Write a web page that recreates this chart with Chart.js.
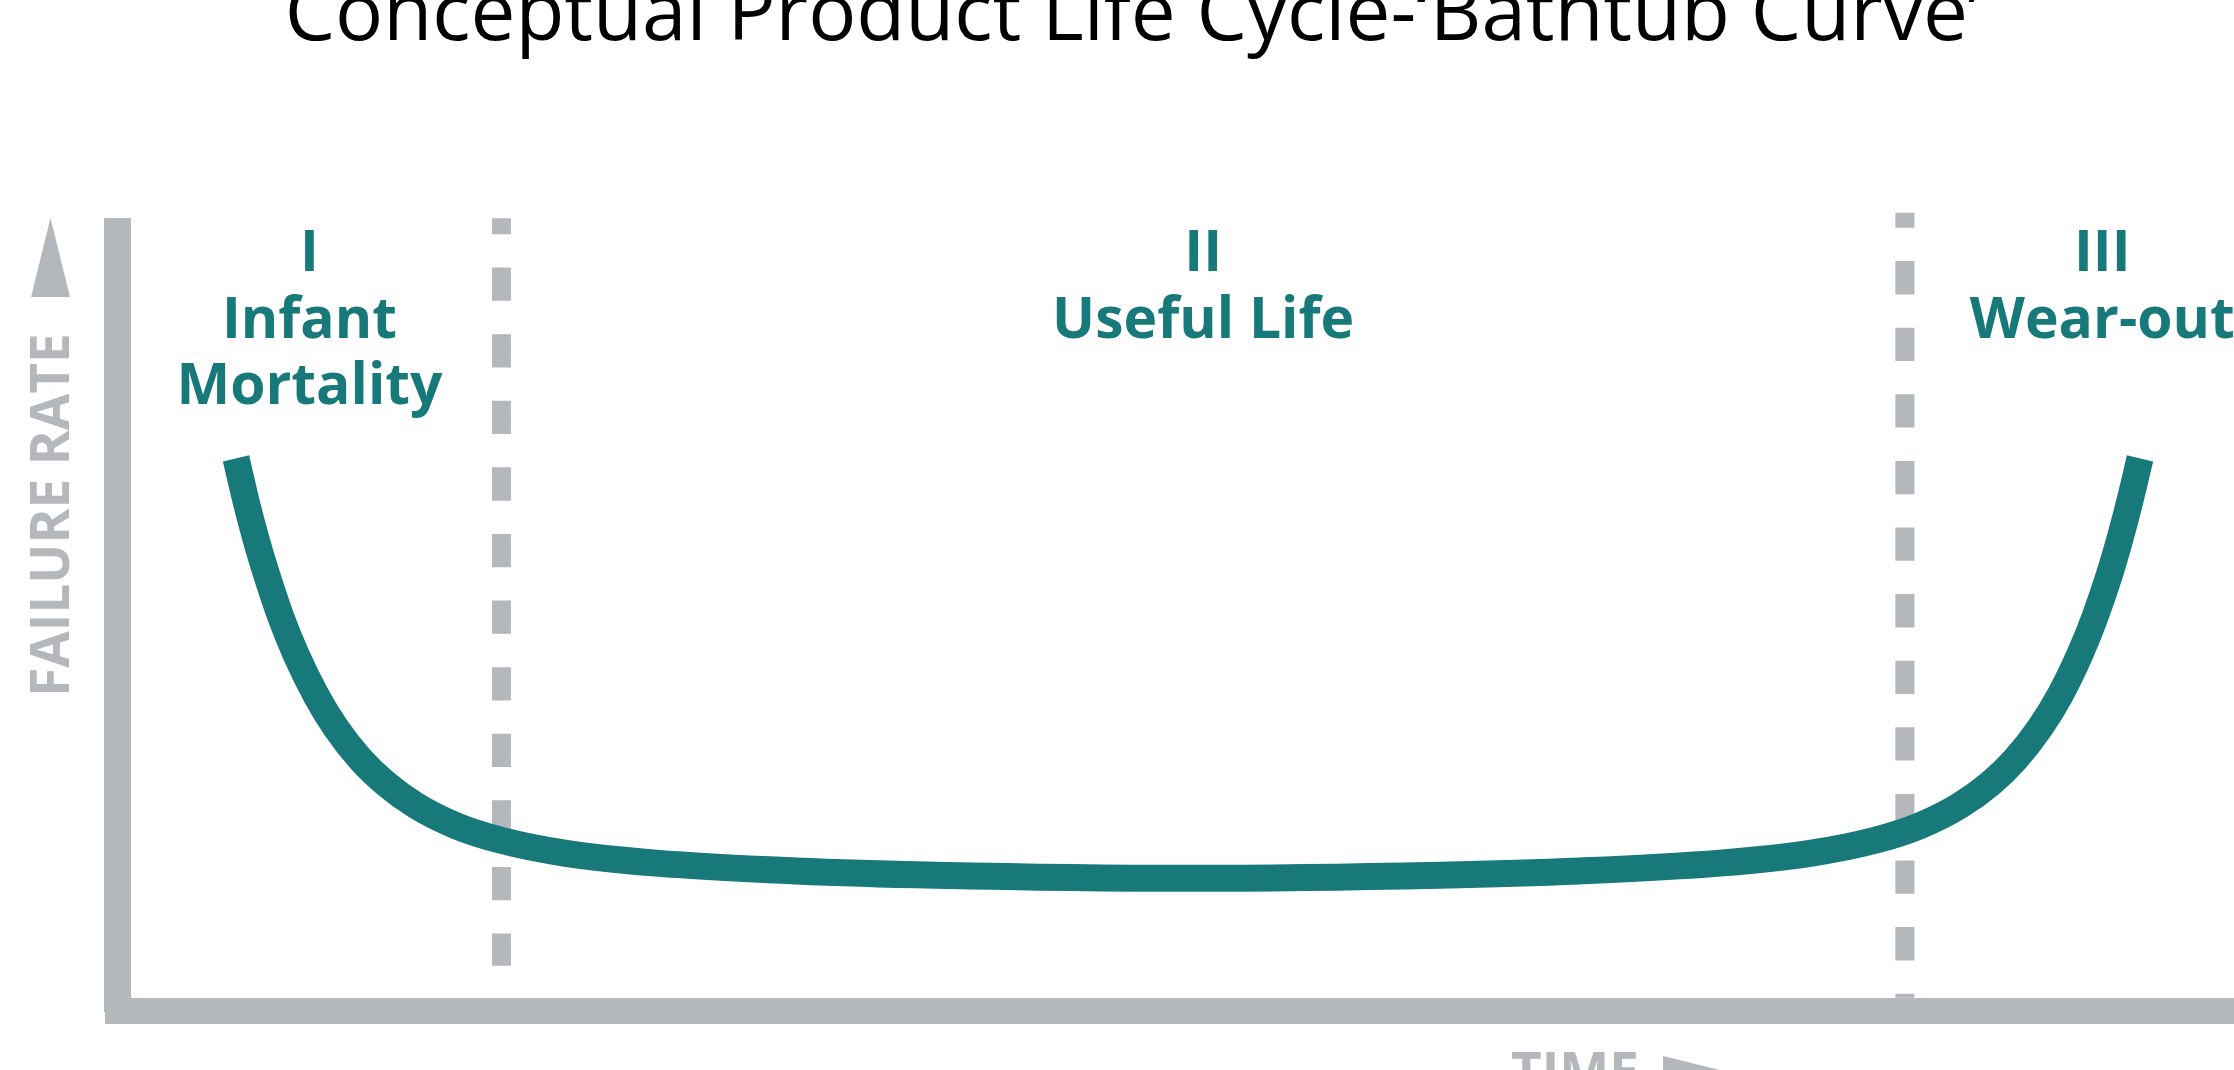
<!DOCTYPE html>
<html>
<head>
<meta charset="utf-8">
<script src="https://cdn.jsdelivr.net/npm/chart.js@4.4.1/dist/chart.umd.min.js"></script>
<style>
    html, body { margin: 0; padding: 0; background: #fff; }
    #wrap { position: relative; width: 2234px; height: 1070px; }
</style>
</head>
<body>
<div id="wrap"><canvas id="bathtub_chart"></canvas></div>
<script>
// chart data (time and failure rate both on a 0-100 conceptual scale)
const chart_title = "Conceptual Product Life Cycle-\u2018Bathtub Curve\u2019";
const y_title = "FAILURE RATE";
const x_title = "TIME";

const curve_time = [5.60, 6.07, 6.54, 7.02, 7.72, 8.43, 9.38, 10.32, 11.50, 12.69, 14.10, 15.99, 18.12,
                    21.19, 25.44, 32.06, 38.67, 50.58, 62.48, 69.10, 75.71, 79.97, 83.04, 85.16,
                    87.05, 88.47, 89.65, 90.83, 91.78, 92.72, 93.43, 94.14, 94.61, 95.08, 95.56];
const curve_rate = [70.89, 65.43, 60.56, 56.20, 50.53, 45.76, 40.51, 36.32, 32.23, 29.13, 26.36, 23.77, 21.90,
                    20.22, 18.97, 17.97, 17.42, 17.02, 17.42, 17.97, 18.97, 20.22, 21.90, 23.77,
                    26.36, 29.13, 32.23, 36.32, 40.51, 45.76, 50.53, 56.20, 60.56, 65.43, 70.89];

// phase dividers
const divider_time = [18.14, 84.45];
const divider_top = [101.7, 102.4];
const divider_bottom = [5.8, 1.7];

// phase labels
const phase_edges = [0, 18.14, 84.45, 103.1];
const phase_numerals = ["I", "II", "III"];
const phase_names = [["Infant", "Mortality"], ["Useful Life"], ["Wear-out"]];

const teal = "#17797A";
const gray = "#B4B7BB";

class BathtubChart{
    constructor(canvas_id){
        this.canvas_id = canvas_id;
    }

    build_datasets(){
        const sets = [];
        sets.push({
            label: "Failure rate",
            data: curve_time.map((t, i) => ({x: t, y: curve_rate[i]})),
            borderColor: teal,
            borderWidth: 27,
            borderCapStyle: "butt",
            borderJoinStyle: "round",
            cubicInterpolationMode: "monotone",
            pointRadius: 0,
            fill: false,
            clip: false,
            order: 0
        });
        //dashed phase dividers
        const offsets = [17.3, 18.3];
        for (let i=0; i<divider_time.length; i++){
            sets.push({
                label: "divider" + i,
                data: [{x: divider_time[i], y: divider_top[i]}, {x: divider_time[i], y: divider_bottom[i]}],
                borderColor: gray,
                borderWidth: 19,
                borderCapStyle: "butt",
                borderDash: [33.3, 33.3],
                borderDashOffset: offsets[i],
                pointRadius: 0,
                fill: false,
                clip: false,
                order: 1
            });
        }
        return sets;
    }

    build_chart(){
        const label_plugin = {
            id: "bathtub_labels",
            afterDraw(chart){
                const ctx = chart.ctx;
                const xs = chart.scales.x;
                const area = chart.chartArea;
                ctx.save();
                ctx.textBaseline = "alphabetic";
                ctx.textAlign = "center";

                // title
                ctx.fillStyle = "#000";
                ctx.font = '400 80px "Open Sans"';
                ctx.fillText(chart_title, 1133, 40);

                // phase labels, centred over each phase
                ctx.fillStyle = teal;
                ctx.font = '700 57px "Open Sans"';
                for (let i=0; i<phase_numerals.length; i++){
                    const cx = xs.getPixelForValue((phase_edges[i] + phase_edges[i+1]) / 2);
                    ctx.fillText(phase_numerals[i], cx, 271);
                    phase_names[i].forEach((line, j) => ctx.fillText(line, cx, 338 + j*66));
                }

                // axis arrows
                ctx.fillStyle = gray;
                const top = area.top - 13.5;
                ctx.beginPath();
                ctx.moveTo(50.5, top);
                ctx.lineTo(70, top + 79);
                ctx.lineTo(31, top + 79);
                ctx.closePath();
                ctx.fill();

                ctx.beginPath();
                ctx.moveTo(1663, 1056);
                ctx.lineTo(1742, 1075.5);
                ctx.lineTo(1663, 1095);
                ctx.closePath();
                ctx.fill();

                // axis titles
                ctx.font = '700 53px "Open Sans"';
                ctx.save();
                ctx.translate(69, 515);
                ctx.rotate(-Math.PI / 2);
                ctx.fillText(y_title, 0, 0);
                ctx.restore();
                ctx.textAlign = "left";
                ctx.fillText(x_title, 1511, 1091);
                ctx.restore();
            }
        };

        new Chart(document.getElementById(this.canvas_id), {
            type: "line",
            data: { datasets: this.build_datasets() },
            options: {
                responsive: true,
                maintainAspectRatio: false,
                animation: false,
                layout: { padding: { left: 117.5, top: 231.5, right: 0, bottom: 59 } },
                plugins: {
                    legend: { display: false },
                    tooltip: { enabled: false },
                    title: { display: false }
                },
                scales: {
                    x: {
                        type: "linear", min: 0, max: 100,
                        ticks: { display: false },
                        grid: { display: false, drawTicks: false },
                        border: { display: true, color: gray, width: 26 }
                    },
                    y: {
                        type: "linear", min: 0, max: 100,
                        ticks: { display: false },
                        grid: { display: false, drawTicks: false },
                        border: { display: true, color: gray, width: 27 }
                    }
                }
            },
            plugins: [label_plugin]
        });
    }
}

const bathtub = new BathtubChart("bathtub_chart");
bathtub.build_chart();
</script>
</body>
</html>
